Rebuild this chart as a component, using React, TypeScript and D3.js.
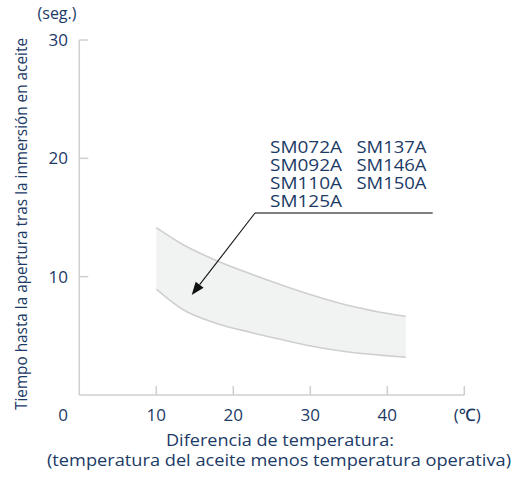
import React from "react";
import * as d3 from "d3";

const xTicks = [10, 20, 30, 40, 50];
const xTickLabels = ["10", "20", "30", "40"];
const yTicks = [10, 20, 30];
const yTickLabels = ["10", "20", "30"];
const tempDiff = [10, 13.5, 17.85, 22.2, 25.8, 30.4, 34.7, 39.05, 42.4];
const upperTime = [14.15, 12.7, 11.35, 10.25, 9.4, 8.4, 7.6, 7.0, 6.65];
const lowerTime = [8.95, 7.2, 6.05, 5.3, 4.75, 4.1, 3.66, 3.37, 3.19];
const modelsCol1 = ["SM072A", "SM092A", "SM110A", "SM125A"];
const modelsCol2 = ["SM137A", "SM146A", "SM150A"];
const yTitle = "Tiempo hasta la apertura tras la inmersión en aceite";
const yUnit = "(seg.)";
const xUnit = "(℃)";
const xTitle1 = "Diferencia de temperatura:";
const xTitle2 = "(temperatura del aceite menos temperatura operativa)";

const W = 529;
const H = 479;
const TEXT = "#1b3a66";
const AXIS = "#cfcfcf";
const FONT = "'Open Sans', 'Noto Sans', sans-serif";

export default function App() {
  const x = d3.scaleLinear().domain([0, 50]).range([79.3, 464.3]);
  const y = d3.scaleLinear().domain([0, 30]).range([395, 40]);

  const pts = tempDiff.map((t, i) => ({ t, u: upperTime[i], l: lowerTime[i] }));
  const area = d3
    .area<any>()
    .x((d) => x(d.t))
    .y0((d) => y(d.l))
    .y1((d) => y(d.u))
    .curve(d3.curveMonotoneX);
  const upLine = d3.line<any>().x((d) => x(d.t)).y((d) => y(d.u)).curve(d3.curveMonotoneX);
  const loLine = d3.line<any>().x((d) => x(d.t)).y((d) => y(d.l)).curve(d3.curveMonotoneX);

  // arrow geometry (annotation)
  const ax0 = 255, ay0 = 213;
  const ax1 = 191.7, ay1 = 295;
  const ang = Math.atan2(ay1 - ay0, ax1 - ax0);
  const hl = 13, hw = 5;
  const bx = ax1 - hl * Math.cos(ang), by = ay1 - hl * Math.sin(ang);
  const px = -Math.sin(ang), py = Math.cos(ang);
  const head = `M${ax1},${ay1} L${bx + hw * px},${by + hw * py} L${bx - hw * px},${by - hw * py} Z`;

  return (
    <svg width={W} height={H} style={{ position: "absolute", left: 0, top: 0, background: "#fff" }} fontFamily={FONT} fontWeight={500}>
      {/* band */}
      <path d={area(pts) || ""} fill="#f1f2f2" stroke="none" />
      <path d={upLine(pts) || ""} fill="none" stroke={AXIS} strokeWidth={1.6} />
      <path d={loLine(pts) || ""} fill="none" stroke={AXIS} strokeWidth={1.6} />

      {/* axes */}
      <line x1={x(0)} x2={x(50)} y1={y(0)} y2={y(0)} stroke={AXIS} strokeWidth={1.5} />
      <line x1={x(0)} x2={x(0)} y1={y(0)} y2={y(30)} stroke={AXIS} strokeWidth={1.5} />
      {xTicks.map((t) => (
        <line key={"xt" + t} x1={x(t)} x2={x(t)} y1={y(0)} y2={y(0) - 9} stroke={AXIS} strokeWidth={1.5} />
      ))}
      {yTicks.map((t) => (
        <line key={"yt" + t} x1={x(0)} x2={x(0) + 9} y1={y(t)} y2={y(t)} stroke={AXIS} strokeWidth={1.5} />
      ))}

      {/* x tick labels */}
      <text x={63} y={421} fontSize={17} fill={TEXT} textAnchor="middle">0</text>
      {xTickLabels.map((s, i) => (
        <text key={"xl" + s} x={x(xTicks[i])} y={421} fontSize={17} fill={TEXT} textAnchor="middle">{s}</text>
      ))}
      <text x={x(50) + 3} y={421} fontSize={17} fill={TEXT} textAnchor="middle">{xUnit}</text>

      {/* y tick labels */}
      {yTickLabels.map((s, i) => (
        <text key={"yl" + s} x={68} y={y(yTicks[i]) + 6} fontSize={17} fill={TEXT} textAnchor="end">{s}</text>
      ))}
      <text x={57} y={19} fontSize={16} fill={TEXT} textAnchor="middle">{yUnit}</text>

      {/* titles */}
      <text
        transform={`translate(27,224) rotate(-90)`}
        fontSize={16}
        fill={TEXT}
        textAnchor="middle"
        textLength={372}
        lengthAdjust="spacingAndGlyphs"
      >
        {yTitle}
      </text>
      <text x={280} y={446} fontSize={16} fill={TEXT} textAnchor="middle" textLength={228} lengthAdjust="spacingAndGlyphs">
        {xTitle1}
      </text>
      <text x={279} y={466} fontSize={16} fill={TEXT} textAnchor="middle" textLength={464} lengthAdjust="spacingAndGlyphs">
        {xTitle2}
      </text>

      {/* annotation */}
      {modelsCol1.map((m, i) => (
        <text key={m} x={270} y={152.7 + i * 18.2} fontSize={16} fill={TEXT} textLength={72} lengthAdjust="spacingAndGlyphs">{m}</text>
      ))}
      {modelsCol2.map((m, i) => (
        <text key={m} x={356.5} y={152.7 + i * 18.2} fontSize={16} fill={TEXT} textLength={70} lengthAdjust="spacingAndGlyphs">{m}</text>
      ))}
      <line x1={ax0} x2={432.7} y1={ay0} y2={ay0} stroke="#555" strokeWidth={1.6} />
      <line x1={ax0} y1={ay0} x2={bx} y2={by} stroke="#111" strokeWidth={1.1} />
      <path d={head} fill="#111" />
    </svg>
  );
}
